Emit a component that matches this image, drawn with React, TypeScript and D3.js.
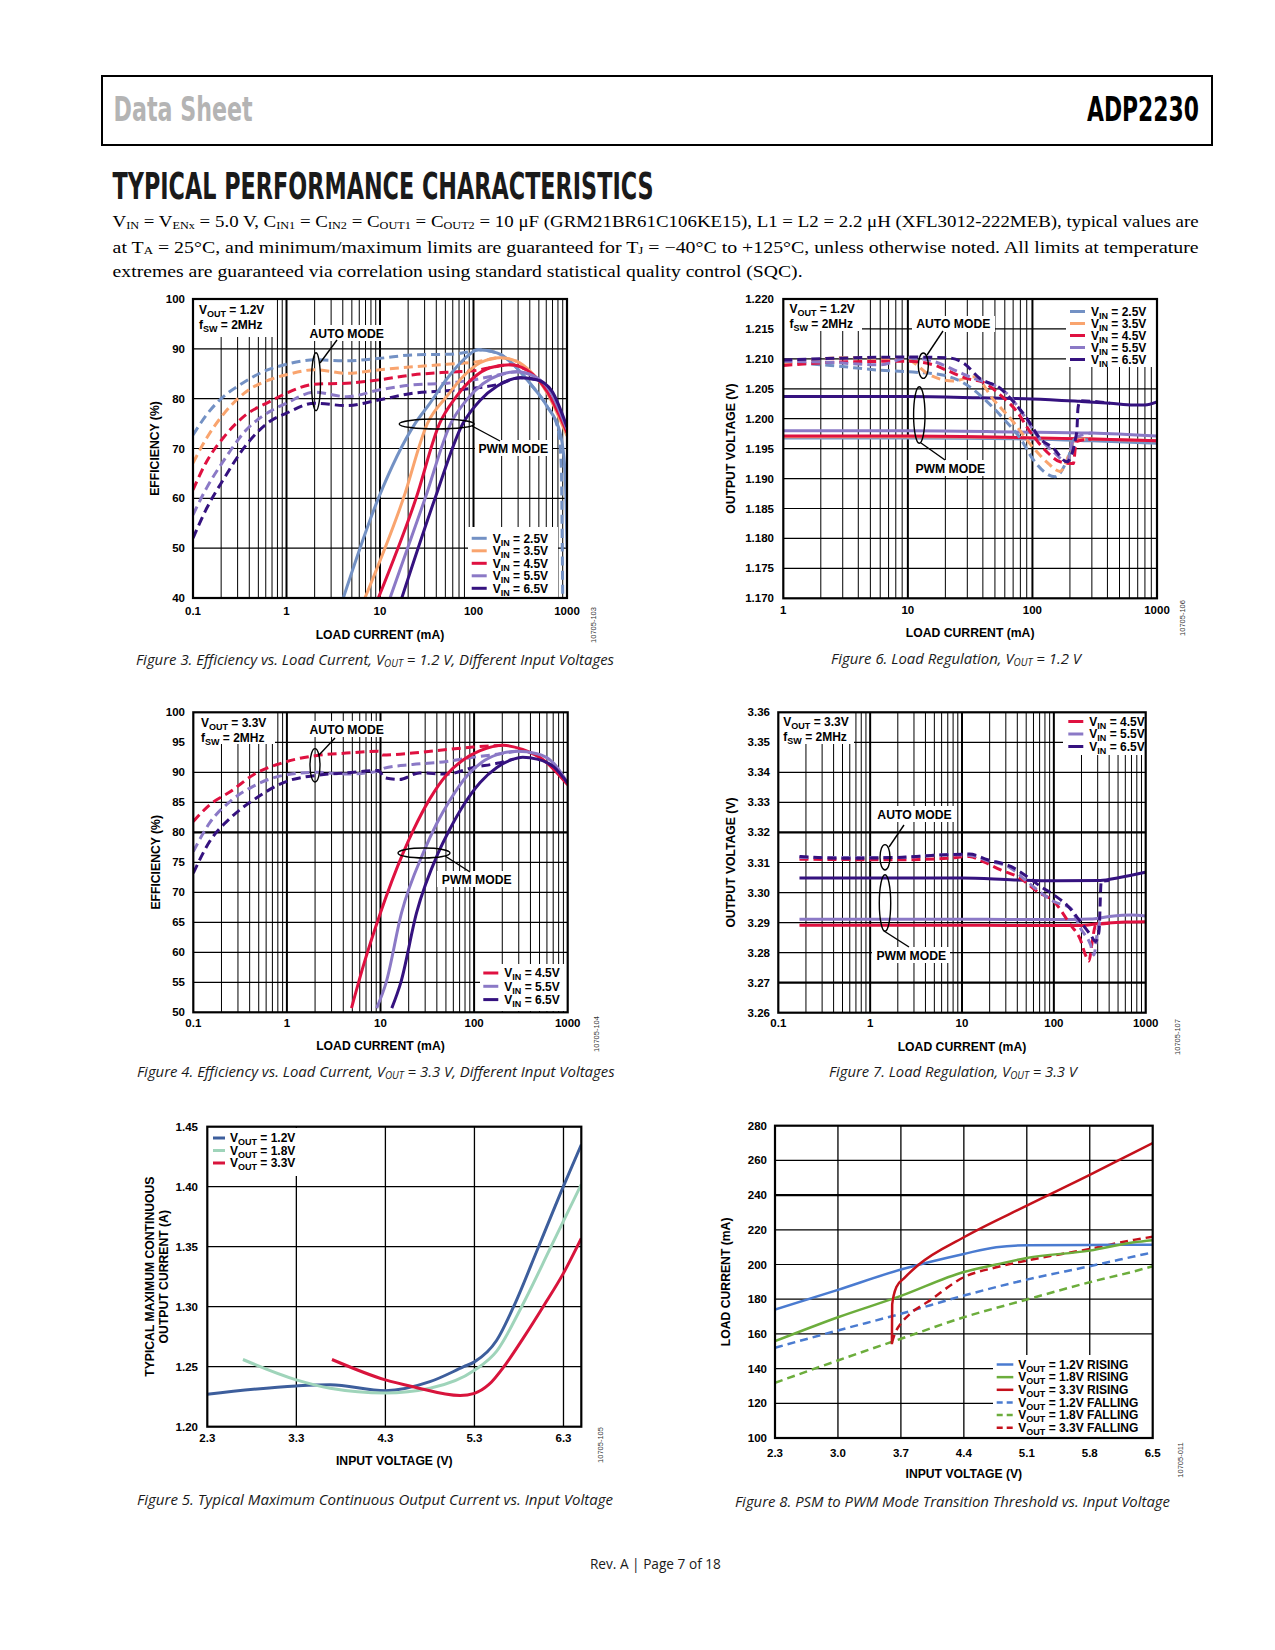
import React from 'react';
import * as d3 from 'd3';

type Pt = [number, number];
type Part = [string, boolean];

// Figure 3: efficiency (%) vs load current (mA), VOUT = 1.2 V
const fig3Auto25: Pt[] = [[0.1, 72.7], [0.14, 76.8], [0.2, 80], [0.32, 82.8], [0.56, 85.4], [1, 86.9], [2, 87.8], [4.4, 87.6], [10, 88.1], [23, 88.8], [52, 88.9], [90, 89.4], [113, 89.8], [178, 89.2], [269, 86.8], [405, 83], [611, 78.5], [800, 74], [870, 66], [890, 50], [900, 40]];
const fig3Auto35: Pt[] = [[0.1, 67.1], [0.14, 72.1], [0.21, 76.8], [0.37, 81.4], [0.66, 83.8], [1, 84.8], [2, 85.8], [4.4, 85.1], [10, 85.8], [23, 86.4], [52, 86.9], [100, 87.3], [150, 87.9], [191, 88.2], [290, 87.5]];
const fig3Auto45: Pt[] = [[0.1, 61.7], [0.14, 67.4], [0.21, 72.1], [0.37, 76.8], [0.66, 79.4], [1, 81.1], [2, 82.9], [4.4, 83.1], [10, 83.8], [23, 84.8], [52, 85.3], [100, 85.6], [170, 86.4], [246, 86.8], [368, 85.8]];
const fig3Auto55: Pt[] = [[0.1, 56.7], [0.14, 62.1], [0.21, 67.4], [0.37, 73.7], [0.66, 77.4], [1, 79.1], [2, 81.3], [4.4, 80.4], [10, 81.8], [23, 82.8], [52, 83.1], [100, 83.8], [191, 84.8], [290, 85.4], [438, 84.6]];
const fig3Auto65: Pt[] = [[0.1, 52], [0.14, 58], [0.21, 63.7], [0.37, 70.7], [0.66, 75.4], [1, 77.1], [2, 79.1], [4.4, 78.6], [10, 79.8], [23, 81.1], [52, 81.6], [100, 82.1], [178, 82.8], [315, 84.2], [475, 83.8]];
const fig3Pwm25: Pt[] = [[4.05, 40], [9.6, 60], [23.7, 75], [34, 79], [52, 84], [78, 87.8], [113, 89.8], [178, 89.2], [269, 86.8], [405, 83], [611, 78.5], [847, 73], [948, 66], [980, 58], [1000, 50]];
const fig3Pwm35: Pt[] = [[6.9, 40], [17.8, 60], [32.1, 75], [52, 80.5], [78, 84.5], [118, 87.2], [191, 88.2], [290, 87.5], [405, 85.5], [611, 81.2], [1000, 72.5]];
const fig3Pwm45: Pt[] = [[9.6, 40], [24.3, 60], [43.3, 75], [66, 80.5], [100, 84.2], [150, 86.2], [246, 86.8], [368, 85.8], [611, 81.5], [1000, 73.2]];
const fig3Pwm55: Pt[] = [[12.8, 40], [30.4, 60], [57, 75], [85, 79.8], [126, 83], [191, 84.8], [290, 85.4], [438, 84.6], [660, 81.5], [1000, 73.8]];
const fig3Pwm65: Pt[] = [[17.1, 40], [38.8, 60], [77, 75], [118, 79.7], [178, 82.5], [315, 84.2], [475, 83.8], [690, 81.5], [1000, 74.3]];

// Figure 6: output voltage (V) vs load current (mA), VOUT = 1.2 V
const fig6Auto25: Pt[] = [[1, 1.2094], [2.4, 1.2089], [6, 1.2081], [11, 1.2078], [19, 1.2073], [30, 1.2056], [43, 1.2029], [58, 1.2001], [80, 1.1967], [102, 1.1931], [152, 1.1903], [195, 1.1937], [220, 1.1967], [300, 1.1963]];
const fig6Auto35: Pt[] = [[1, 1.2091], [3.2, 1.2102], [10, 1.2098], [15, 1.2073], [23, 1.2063], [34, 1.207], [49, 1.2031], [70, 1.1995], [102, 1.1951], [130, 1.1928], [167, 1.1912], [200, 1.1945], [215, 1.1964], [300, 1.1966]];
const fig6Auto45: Pt[] = [[1, 1.2089], [3.2, 1.2095], [10, 1.2096], [16, 1.209], [20.5, 1.2081], [30, 1.2067], [40, 1.2061], [55, 1.204], [75, 1.2012], [96, 1.1978], [130, 1.1945], [167, 1.1928], [213, 1.1925], [225, 1.1962], [300, 1.1966]];
const fig6Auto55: Pt[] = [[1, 1.2096], [2.4, 1.2094], [6, 1.209], [10, 1.2102], [16, 1.2096], [25, 1.2079], [34, 1.2067], [49, 1.2056], [64, 1.204], [85, 1.2006], [108, 1.1973], [147, 1.1945], [189, 1.1928], [215, 1.1967], [300, 1.1976]];
const fig6Auto65: Pt[] = [[1, 1.2098], [10, 1.2103], [20.5, 1.2102], [28, 1.2093], [38, 1.2067], [55, 1.2051], [70, 1.2029], [90, 1.2001], [115, 1.1967], [147, 1.1951], [189, 1.1928], [227, 1.1978], [232, 1.2017], [241, 1.203], [420, 1.2026]];
const fig6Pwm25: Pt[] = [[1, 1.1968], [10, 1.1968], [100, 1.1966], [300, 1.1963], [1000, 1.1959]];
const fig6Pwm35: Pt[] = [[1, 1.197], [10, 1.197], [100, 1.1968], [300, 1.1966], [1000, 1.1963]];
const fig6Pwm45: Pt[] = [[1, 1.1971], [10, 1.1971], [100, 1.1968], [300, 1.1966], [1000, 1.1963]];
const fig6Pwm55: Pt[] = [[1, 1.198], [10, 1.198], [70, 1.1978], [300, 1.1976], [1000, 1.1971]];
const fig6Pwm65: Pt[] = [[1, 1.2037], [10, 1.2037], [38, 1.2035], [100, 1.2033], [240, 1.2029], [420, 1.2026], [650, 1.2023], [800, 1.2023], [1000, 1.2028]];

// Figure 4: efficiency (%) vs load current (mA), VOUT = 3.3 V
const fig4Auto45: Pt[] = [[0.1, 81.8], [0.15, 84.6], [0.25, 86.8], [0.44, 89.6], [1, 91.8], [2.1, 92.8], [4.3, 93.2], [9.5, 93.5], [10.5, 92.9], [22, 93.2], [51, 93.8], [97, 94.2], [150, 94.4], [206, 94.5]];
const fig4Auto55: Pt[] = [[0.1, 76.8], [0.15, 81.6], [0.25, 85.2], [0.44, 87.7], [1, 89.6], [2.1, 90], [4.3, 89.7], [9.5, 90.2], [11, 90.7], [22, 91.3], [51, 91.8], [97, 92.5], [175, 93], [284, 93.5]];
const fig4Auto65: Pt[] = [[0.1, 73.2], [0.15, 78.5], [0.25, 82.4], [0.44, 85.4], [1, 88.5], [2.1, 89.5], [4.3, 89.9], [9.5, 90.3], [11, 89.1], [16, 88.8], [26, 89.9], [51, 89.7], [98, 90.8], [176, 91.5], [263, 92.2]];
const fig4Pwm45: Pt[] = [[4.9, 50.7], [6.6, 57.9], [10, 66.6], [17.5, 76.6], [22.5, 80.4], [34, 85.7], [51, 89.6], [77, 92.1], [116, 93.6], [206, 94.5], [330, 93.8], [546, 92.1], [1000, 87.9]];
const fig4Pwm55: Pt[] = [[9.1, 50.7], [11.5, 55], [16.8, 66.6], [28.7, 76.6], [40, 81.5], [56, 85.5], [85, 89.5], [130, 92], [200, 93.2], [284, 93.5], [470, 93.1], [700, 91.6], [1000, 88.2]];
const fig4Pwm65: Pt[] = [[13.2, 50.7], [16.5, 55], [24.3, 66.6], [41.5, 76.6], [55, 80.5], [77, 84.5], [116, 88.3], [175, 90.8], [263, 92.2], [330, 92.5], [470, 92.2], [700, 91], [1000, 88.2]];

// Figure 7: output voltage (V) vs load current (mA), VOUT = 3.3 V
const fig7Auto45: Pt[] = [[0.17, 3.3111], [2, 3.3109], [7, 3.3114], [12, 3.312], [17, 3.3103], [26, 3.3076], [43, 3.3048], [66, 3.3003], [100, 3.297], [152, 3.2892], [195, 3.2842], [221, 3.2792], [241, 3.2772], [262, 3.2837], [285, 3.2892], [400, 3.2898]];
const fig7Auto55: Pt[] = [[0.17, 3.3117], [2, 3.3117], [7, 3.3126], [12, 3.3124], [19, 3.3106], [34, 3.3081], [51, 3.3037], [66, 3.3009], [100, 3.297], [152, 3.2948], [195, 3.2881], [251, 3.2826], [273, 3.2792], [295, 3.2859], [318, 3.2903], [340, 3.2912]];
const fig7Auto65: Pt[] = [[0.17, 3.312], [0.56, 3.3114], [2, 3.3117], [7, 3.3126], [12, 3.3128], [19, 3.3109], [34, 3.3087], [51, 3.3053], [72, 3.302], [100, 3.2992], [140, 3.2957], [195, 3.2903], [251, 3.2859], [285, 3.2837], [310, 3.287], [328, 3.3037], [400, 3.304]];
const fig7Pwm45: Pt[] = [[0.17, 3.2891], [10, 3.2891], [100, 3.289], [200, 3.289], [300, 3.2896], [600, 3.2902], [1000, 3.2903]];
const fig7Pwm55: Pt[] = [[0.17, 3.2911], [10, 3.2911], [100, 3.291], [250, 3.2912], [400, 3.292], [700, 3.2925], [1000, 3.2922]];
const fig7Pwm65: Pt[] = [[0.17, 3.3048], [10, 3.3048], [37, 3.3042], [100, 3.3039], [320, 3.304], [520, 3.305], [880, 3.3064], [1000, 3.3068]];

// Figure 5: max continuous output current (A) vs input voltage (V)
const fig5Vout12: Pt[] = [[2.3, 1.227], [3.3, 1.234], [3.68, 1.235], [4.3, 1.23], [4.8, 1.2375], [5.18, 1.25], [5.3, 1.254], [5.55, 1.272], [5.74, 1.3], [6.02, 1.35], [6.3, 1.4005], [6.5, 1.435]];
const fig5Vout18: Pt[] = [[2.7, 1.256], [3.3, 1.239], [3.68, 1.232], [4.3, 1.228], [4.8, 1.232], [5.3, 1.247], [5.55, 1.263], [5.83, 1.3], [6.16, 1.35], [6.5, 1.402]];
const fig5Vout33: Pt[] = [[3.7, 1.256], [4.3, 1.239], [4.61, 1.2333], [5.14, 1.226], [5.3, 1.2278], [5.46, 1.235], [5.66, 1.253], [5.85, 1.274], [6.08, 1.301], [6.3, 1.328], [6.5, 1.357]];

// Figure 8: PSM/PWM threshold load current (mA) vs input voltage (V)
const fig8Rise12: Pt[] = [[2.3, 174], [3.0, 185.4], [3.7, 197.1], [4.4, 206.1], [4.76, 210], [5.1, 211.1], [5.8, 211.3], [6.5, 211.4]];
const fig8Rise18: Pt[] = [[2.3, 155.8], [3.0, 169.6], [3.7, 181.9], [4.4, 195.7], [4.76, 200], [5.1, 203.8], [5.8, 208], [6.29, 212.8], [6.5, 214]];
const fig8Rise33: Pt[] = [[3.6, 154], [3.603, 177], [3.65, 187], [3.74, 192.3], [3.9, 200], [4.4, 215.7], [5.1, 233.9], [5.8, 251.6], [6.29, 264.5], [6.5, 270]];
const fig8Fall12: Pt[] = [[2.3, 152], [3.0, 162], [3.7, 171.6], [4.4, 182.1], [5.1, 191.3], [5.8, 199], [6.29, 204.6], [6.5, 207]];
const fig8Fall18: Pt[] = [[2.3, 131.8], [3.0, 144.7], [3.7, 157.2], [4.4, 169.6], [5.1, 179.8], [5.8, 189.8], [6.29, 196], [6.5, 199]];
const fig8Fall33: Pt[] = [[3.6, 155], [3.64, 161], [3.7, 166], [3.8, 171.5], [4.0, 178.5], [4.4, 192.7], [4.76, 198.4], [5.1, 202.3], [5.8, 209], [6.29, 214.2], [6.5, 216]];

// ticks
const loadTicks = [0.1, 1, 10, 100, 1000];
const loadLabels = ['0.1', '1', '10', '100', '1000'];
const load6Ticks = [1, 10, 100, 1000];
const load6Labels = ['1', '10', '100', '1000'];
const eff3Ticks = [40, 50, 60, 70, 80, 90, 100];
const eff4Ticks = [50, 55, 60, 65, 70, 75, 80, 85, 90, 95, 100];
const v12Ticks = [1.17, 1.175, 1.18, 1.185, 1.19, 1.195, 1.2, 1.205, 1.21, 1.215, 1.22];
const v33Ticks = [3.26, 3.27, 3.28, 3.29, 3.3, 3.31, 3.32, 3.33, 3.34, 3.35, 3.36];
const imaxTicks = [1.2, 1.25, 1.3, 1.35, 1.4, 1.45];
const vin5Ticks = [2.3, 3.3, 4.3, 5.3, 6.3];
const thrTicks = [100, 120, 140, 160, 180, 200, 220, 240, 260, 280];
const vin8Ticks = [2.3, 3.0, 3.7, 4.4, 5.1, 5.8, 6.5];
const vinNames = ['2.5V', '3.5V', '4.5V', '5.5V', '6.5V'];

const C25 = '#7391c4';
const C35 = '#f9a46e';
const C45 = '#df1140';
const C55 = '#8b79c6';
const C65 = '#35127f';

const SANS = "'Liberation Sans', Arial, Helvetica, sans-serif";
const MYRIAD = "'Open Sans', 'Noto Sans', sans-serif";
const NARROW = "'Liberation Sans Narrow', 'DejaVu Sans Condensed', sans-serif";

interface Series { data: Pt[]; color: string; dashed?: boolean }
interface Box { x: number; y: number; w: number; h: number }

function Rich({ x, y, parts, size, subSize, shift = 3, anchor, length, family = SANS, weight = 'bold', italic, fill = '#000' }: {
  x: number; y: number; parts: Part[]; size: number; subSize: number; shift?: number; anchor?: string;
  length?: number; family?: string; weight?: string; italic?: boolean; fill?: string;
}) {
  let cur = 0;
  return (
    <text x={x} y={y} fontSize={size} fontFamily={family} fontWeight={weight} fontStyle={italic ? 'italic' : 'normal'}
      textAnchor={anchor} fill={fill} textLength={length} lengthAdjust={length ? 'spacingAndGlyphs' : undefined}>
      {parts.map(([s, sub], i) => {
        const dy = (sub ? shift : 0) - cur;
        cur = sub ? shift : 0;
        return <tspan key={i} dy={dy} fontSize={sub ? subSize : size}>{s}</tspan>;
      })}
    </text>
  );
}

interface PanelProps {
  id: string;
  left: number; top: number; width: number; height: number;
  log?: boolean;
  xDomain: [number, number]; yDomain: [number, number];
  xTicks: number[]; xLabels: string[];
  yTicks: number[]; yLabels: string[];
  thickY?: number[];
  series: Series[];
  masks?: Box[];
  lineWidth?: number; dash?: string;
  xLabelY: number; yLabelX: number;
  xTitle: string; xTitleY: number;
  yTitle: string[]; yTitleX: number[];
  children?: React.ReactNode;
}

function Panel(p: PanelProps) {
  const right = p.left + p.width;
  const bottom = p.top + p.height;
  const x: (v: number) => number = p.log
    ? d3.scaleLog().domain(p.xDomain).range([p.left, right])
    : d3.scaleLinear().domain(p.xDomain).range([p.left, right]);
  const y = d3.scaleLinear().domain(p.yDomain).range([bottom, p.top]);

  // log axes get the usual 1..9 per decade grid, decade lines heavier
  const vLines: [number, number][] = [];
  if (p.log) {
    const lo = Math.floor(Math.log10(p.xDomain[0]) + 1e-9);
    const hi = Math.round(Math.log10(p.xDomain[1]));
    for (let e = lo; e < hi; e++) {
      for (let k = 1; k <= 9; k++) vLines.push([k * Math.pow(10, e), k === 1 ? 2 : 1]);
    }
  } else {
    p.xTicks.forEach((v) => vLines.push([v, 1.3]));
  }
  const vGrid = vLines.filter(([v]) => x(v) > p.left + 1 && x(v) < right - 1);
  const hGrid = p.yTicks.filter((v) => y(v) > p.top + 1 && y(v) < bottom - 1);

  const line = d3.line<Pt>().x((d) => x(d[0])).y((d) => y(d[1])).curve(d3.curveMonotoneX);
  const midX = (p.left + right) / 2;
  const midY = (p.top + bottom) / 2;

  return (
    <g>
      <defs>
        <clipPath id={`clip-${p.id}`}>
          <rect x={p.left} y={p.top} width={p.width} height={p.height} />
        </clipPath>
      </defs>
      {vGrid.map(([v, w], i) => (
        <line key={`v${i}`} x1={x(v)} x2={x(v)} y1={p.top} y2={bottom} stroke="#000" strokeWidth={w} />
      ))}
      {hGrid.map((v, i) => (
        <line key={`h${i}`} x1={p.left} x2={right} y1={y(v)} y2={y(v)} stroke="#000"
          strokeWidth={p.thickY && p.thickY.includes(v) ? 2.2 : 1.2} />
      ))}
      {(p.masks || []).map((b, i) => (
        <rect key={`m${i}`} x={b.x} y={b.y} width={b.w} height={b.h} fill="#fff" />
      ))}
      <g clipPath={`url(#clip-${p.id})`}>
        {p.series.map((s, i) => (
          <path key={`s${i}`} d={line(s.data) || ''} fill="none" stroke={s.color}
            strokeWidth={p.lineWidth || 3} strokeDasharray={s.dashed ? p.dash || '9 5' : undefined} />
        ))}
      </g>
      <rect x={p.left} y={p.top} width={p.width} height={p.height} fill="none" stroke="#000" strokeWidth={2.2} />
      {p.yTicks.map((v, i) => (
        <text key={`yl${i}`} x={p.yLabelX} y={y(v) + 4} textAnchor="end" fontSize={11.5} fontWeight="bold" fontFamily={SANS}>
          {p.yLabels[i]}
        </text>
      ))}
      {p.xTicks.map((v, i) => (
        <text key={`xl${i}`} x={x(v)} y={p.xLabelY} textAnchor="middle" fontSize={11.5} fontWeight="bold" fontFamily={SANS}>
          {p.xLabels[i]}
        </text>
      ))}
      <text x={midX} y={p.xTitleY} textAnchor="middle" fontSize={12.2} fontWeight="bold" fontFamily={SANS}>{p.xTitle}</text>
      {p.yTitle.map((t, i) => (
        <text key={`yt${i}`} transform={`translate(${p.yTitleX[i]},${midY}) rotate(-90)`} dy="0.35em"
          textAnchor="middle" fontSize={12.2} fontWeight="bold" fontFamily={SANS}>{t}</text>
      ))}
      {p.children}
    </g>
  );
}

interface LegendItem { parts: Part[]; color: string; dashed?: boolean }

function Legend({ x, y, step, items, sw = 15, gap = 6, width = 3, dash = '6 4' }: {
  x: number; y: number; step: number; items: LegendItem[]; sw?: number; gap?: number; width?: number; dash?: string;
}) {
  return (
    <g>
      {items.map((it, i) => (
        <g key={i}>
          <line x1={x} x2={x + sw} y1={y + i * step} y2={y + i * step} stroke={it.color} strokeWidth={width}
            strokeDasharray={it.dashed ? dash : undefined} />
          <Rich x={x + sw + gap} y={y + i * step + 4.3} parts={it.parts} size={12} subSize={9} shift={3} />
        </g>
      ))}
    </g>
  );
}

function Mode({ label, tx, ty, ex, ey, rx, ry, l }: {
  label: string; tx: number; ty: number; ex: number; ey: number; rx: number; ry: number; l: [number, number, number, number];
}) {
  return (
    <g>
      <ellipse cx={ex} cy={ey} rx={rx} ry={ry} fill="none" stroke="#000" strokeWidth={1.4} />
      <line x1={l[0]} y1={l[1]} x2={l[2]} y2={l[3]} stroke="#000" strokeWidth={1.4} />
      <text x={tx} y={ty + 4.4} textAnchor="middle" fontSize={12.2} fontWeight="bold" fontFamily={SANS}>{label}</text>
    </g>
  );
}

function Info({ x, y, vout }: { x: number; y: number; vout: string }) {
  return (
    <g>
      <Rich x={x} y={y} parts={[['V', false], ['OUT', true], [` = ${vout}`, false]]} size={12} subSize={9} />
      <Rich x={x} y={y + 15} parts={[['f', false], ['SW', true], [' = 2MHz', false]]} size={12} subSize={9} />
    </g>
  );
}

function Caption({ x, y, len, parts }: { x: number; y: number; len: number; parts: Part[] }) {
  return <Rich x={x} y={y} parts={parts} size={15} subSize={10} shift={2} length={len} family={MYRIAD} weight="normal" italic fill="#1a1a1a" />;
}

function Code({ x, y, t }: { x: number; y: number; t: string }) {
  return (
    <text transform={`translate(${x},${y}) rotate(-90)`} dy="0.35em" textAnchor="middle" fontSize={7.5} fontFamily={SANS} fill="#333">{t}</text>
  );
}

const vinParts = (v: string): Part[] => [['V', false], ['IN', true], [` = ${v}`, false]];
const voutParts = (v: string): Part[] => [['V', false], ['OUT', true], [` = ${v}`, false]];

const yFmt = (d: number[], n: number) => d.map((v) => v.toFixed(n));

export default function App() {
  const vinColors = [C25, C35, C45, C55, C65];
  return (
    <svg width={1275} height={1650} viewBox="0 0 1275 1650"
      style={{ position: 'absolute', left: 0, top: 0, background: '#fff' }} fontFamily={SANS}>
      <rect width={1275} height={1650} fill="#fff" />
      {/* header */}
      <rect x={102} y={76} width={1110} height={69} fill="none" stroke="#000" strokeWidth={2} />
      <text x={113.6} y={121} fontSize={34} fontWeight="bold" fill="#b4b4b4" fontFamily={NARROW}
        textLength={139} lengthAdjust="spacingAndGlyphs">Data Sheet</text>
      <text x={1087} y={121} fontSize={34} fontWeight="bold" fill="#000" fontFamily={NARROW}
        textLength={112} lengthAdjust="spacingAndGlyphs">ADP2230</text>
      <text x={112.6} y={199} fontSize={38} fontWeight="bold" fill="#1a1a1a" fontFamily={NARROW}
        textLength={541} lengthAdjust="spacingAndGlyphs">TYPICAL PERFORMANCE CHARACTERISTICS</text>
      <Rich x={112.6} y={227} size={17} subSize={11} shift={1.5} family="'Liberation Serif', 'Times New Roman', serif" weight="normal" length={1086}
        parts={[['V', false], ['IN', true], [' = V', false], ['ENx', true], [' = 5.0 V, C', false], ['IN1', true], [' = C', false], ['IN2', true], [' = C', false], ['OUT1', true], [' = C', false], ['OUT2', true], [' = 10 μF (GRM21BR61C106KE15), L1 = L2 = 2.2 μH (XFL3012-222MEB), typical values are', false]]} />
      <Rich x={112.6} y={252.5} size={17} subSize={11} shift={1.5} family="'Liberation Serif', 'Times New Roman', serif" weight="normal" length={1086}
        parts={[['at T', false], ['A', true], [' = 25°C, and minimum/maximum limits are guaranteed for T', false], ['J', true], [' = −40°C to +125°C, unless otherwise noted. All limits at temperature', false]]} />
      <Rich x={112.6} y={277} size={17} subSize={11} family="'Liberation Serif', 'Times New Roman', serif" weight="normal" length={690}
        parts={[['extremes are guaranteed via correlation using standard statistical quality control (SQC).', false]]} />

      {/* Figure 3 */}
      <Panel id="f3" left={193} top={299} width={374} height={299} log xDomain={[0.1, 1000]} yDomain={[40, 100]}
        xTicks={loadTicks} xLabels={loadLabels} yTicks={eff3Ticks} yLabels={yFmt(eff3Ticks, 0)}
        series={[
          { data: fig3Auto25, color: C25, dashed: true }, { data: fig3Auto35, color: C35, dashed: true },
          { data: fig3Auto45, color: C45, dashed: true }, { data: fig3Auto55, color: C55, dashed: true },
          { data: fig3Auto65, color: C65, dashed: true },
          { data: fig3Pwm25, color: C25 }, { data: fig3Pwm35, color: C35 }, { data: fig3Pwm45, color: C45 },
          { data: fig3Pwm55, color: C55 }, { data: fig3Pwm65, color: C65 },
        ]}
        masks={[{ x: 194, y: 300, w: 80, h: 37 }, { x: 308, y: 325, w: 78, h: 16 }, { x: 475, y: 440, w: 77, h: 16 }, { x: 468, y: 527, w: 90, h: 70 }]}
        xLabelY={615} yLabelX={185} xTitle="LOAD CURRENT (mA)" xTitleY={638.5} yTitle={['EFFICIENCY (%)']} yTitleX={[155]}>
        <Info x={199} y={314.3} vout="1.2V" />
        <Mode label="AUTO MODE" tx={346.7} ty={333.3} ex={316} ey={381.7} rx={4.5} ry={29} l={[320, 363, 337, 340]} />
        <Mode label="PWM MODE" tx={513.3} ty={448.3} ex={436.7} ey={424} rx={37.5} ry={5} l={[472, 426, 500, 441]} />
        <Legend x={471.7} y={538.3} step={12.5} items={vinNames.map((n, i) => ({ parts: vinParts(n), color: vinColors[i] }))} />
      </Panel>
      <Code x={593} y={625} t="10705-103" />
      <Caption x={136} y={665} len={478} parts={[['Figure 3. Efficiency vs. Load Current, V', false], ['OUT', true], [' = 1.2 V, Different Input Voltages', false]]} />

      {/* Figure 6 */}
      <Panel id="f6" left={783.3} top={299} width={373.7} height={299.3} log xDomain={[1, 1000]} yDomain={[1.17, 1.22]}
        xTicks={load6Ticks} xLabels={load6Labels} yTicks={v12Ticks} yLabels={yFmt(v12Ticks, 3)}
        series={[
          { data: fig6Pwm25, color: C25 }, { data: fig6Pwm35, color: C35 }, { data: fig6Pwm45, color: C45 },
          { data: fig6Pwm55, color: C55 }, { data: fig6Pwm65, color: C65 },
          { data: fig6Auto25, color: C25, dashed: true }, { data: fig6Auto35, color: C35, dashed: true },
          { data: fig6Auto45, color: C45, dashed: true }, { data: fig6Auto55, color: C55, dashed: true },
          { data: fig6Auto65, color: C65, dashed: true },
        ]}
        masks={[{ x: 784, y: 300, w: 78, h: 31 }, { x: 912, y: 316, w: 83, h: 16 }, { x: 911, y: 460, w: 78, h: 16 }, { x: 1066, y: 300, w: 90, h: 67 }]}
        xLabelY={614} yLabelX={774} xTitle="LOAD CURRENT (mA)" xTitleY={636.5} yTitle={['OUTPUT VOLTAGE (V)']} yTitleX={[731]}>
        <Info x={789.5} y={312.6} vout="1.2V" />
        <Mode label="AUTO MODE" tx={953.3} ty={324} ex={923.3} ey={365.7} rx={5} ry={12.7} l={[927, 355, 943, 331]} />
        <Mode label="PWM MODE" tx={950.3} ty={468.3} ex={919.3} ey={415} rx={5.7} ry={28.3} l={[921, 443, 945, 460]} />
        <Legend x={1070} y={311.5} step={12} items={vinNames.map((n, i) => ({ parts: vinParts(n), color: vinColors[i] }))} />
      </Panel>
      <Code x={1182} y={618} t="10705-106" />
      <Caption x={831} y={664} len={250} parts={[['Figure 6. Load Regulation, V', false], ['OUT', true], [' = 1.2 V', false]]} />

      {/* Figure 4 */}
      <Panel id="f4" left={193.3} top={712.3} width={374.4} height={300} log xDomain={[0.1, 1000]} yDomain={[50, 100]}
        xTicks={loadTicks} xLabels={loadLabels} yTicks={eff4Ticks} yLabels={yFmt(eff4Ticks, 0)} thickY={[80]}
        series={[
          { data: fig4Auto45, color: C45, dashed: true }, { data: fig4Auto55, color: C55, dashed: true },
          { data: fig4Auto65, color: C65, dashed: true },
          { data: fig4Pwm45, color: C45 }, { data: fig4Pwm55, color: C55 }, { data: fig4Pwm65, color: C65 },
        ]}
        masks={[{ x: 194, y: 713, w: 81, h: 31 }, { x: 308, y: 721, w: 78, h: 16 }, { x: 437, y: 871, w: 79, h: 16 }, { x: 480, y: 964, w: 87, h: 47 }]}
        xLabelY={1027} yLabelX={185} xTitle="LOAD CURRENT (mA)" xTitleY={1050} yTitle={['EFFICIENCY (%)']} yTitleX={[156]}>
        <Info x={201} y={727.3} vout="3.3V" />
        <Mode label="AUTO MODE" tx={346.7} ty={729.7} ex={315} ey={765.3} rx={5} ry={16.7} l={[319, 755, 335, 738]} />
        <Mode label="PWM MODE" tx={476.7} ty={879.7} ex={424} ey={853} rx={26} ry={5} l={[445, 856, 470, 872]} />
        <Legend x={483.3} y={973} step={13.3} items={[2, 3, 4].map((i) => ({ parts: vinParts(vinNames[i]), color: vinColors[i] }))} />
      </Panel>
      <Code x={596} y={1034} t="10705-104" />
      <Caption x={137} y={1077} len={477.6} parts={[['Figure 4. Efficiency vs. Load Current, V', false], ['OUT', true], [' = 3.3 V, Different Input Voltages', false]]} />

      {/* Figure 7 */}
      <Panel id="f7" left={778.3} top={712.3} width={367.4} height={300.4} log xDomain={[0.1, 1000]} yDomain={[3.26, 3.36]}
        xTicks={loadTicks} xLabels={loadLabels} yTicks={v33Ticks} yLabels={yFmt(v33Ticks, 2)} thickY={[3.32, 3.27]}
        series={[
          { data: fig7Pwm45, color: C45 }, { data: fig7Pwm55, color: C55 }, { data: fig7Pwm65, color: C65 },
          { data: fig7Auto45, color: C45, dashed: true }, { data: fig7Auto55, color: C55, dashed: true },
          { data: fig7Auto65, color: C65, dashed: true },
        ]}
        masks={[{ x: 779, y: 713, w: 75, h: 31 }, { x: 873, y: 806, w: 83, h: 16 }, { x: 872, y: 947, w: 78, h: 16 }, { x: 1063, y: 713, w: 82, h: 42 }]}
        xLabelY={1027} yLabelX={770} xTitle="LOAD CURRENT (mA)" xTitleY={1051} yTitle={['OUTPUT VOLTAGE (V)']} yTitleX={[730.7]}>
        <Info x={783.3} y={726.3} vout="3.3V" />
        <Mode label="AUTO MODE" tx={914.5} ty={814.7} ex={885} ey={857.3} rx={5} ry={12.7} l={[889, 847, 904, 825]} />
        <Mode label="PWM MODE" tx={911.3} ty={955.3} ex={885} ey={903} rx={5.7} ry={28.3} l={[884, 931, 909, 947]} />
        <Legend x={1068.3} y={721.5} step={12.5} items={[2, 3, 4].map((i) => ({ parts: vinParts(vinNames[i]), color: vinColors[i] }))} />
      </Panel>
      <Code x={1177} y={1037} t="10705-107" />
      <Caption x={829} y={1077} len={248} parts={[['Figure 7. Load Regulation, V', false], ['OUT', true], [' = 3.3 V', false]]} />

      {/* Figure 5 */}
      <Panel id="f5" left={207.3} top={1126.7} width={374} height={300} xDomain={[2.3, 6.5]} yDomain={[1.2, 1.45]}
        xTicks={vin5Ticks} xLabels={yFmt(vin5Ticks, 1)} yTicks={imaxTicks} yLabels={yFmt(imaxTicks, 2)}
        series={[{ data: fig5Vout12, color: '#3d5e9c' }, { data: fig5Vout18, color: '#9fd4ba' }, { data: fig5Vout33, color: '#d8143c' }]}
        masks={[{ x: 208.5, y: 1128, w: 96, h: 48 }]} lineWidth={3}
        xLabelY={1442} yLabelX={198} xTitle="INPUT VOLTAGE (V)" xTitleY={1464.5}
        yTitle={['TYPICAL MAXIMUM CONTINUOUS', 'OUTPUT CURRENT (A)']} yTitleX={[150, 163.3]}>
        <Legend x={213} y={1138} step={12.5} sw={12} gap={5}
          items={[{ parts: voutParts('1.2V'), color: '#3d5e9c' }, { parts: voutParts('1.8V'), color: '#9fd4ba' }, { parts: voutParts('3.3V'), color: '#d8143c' }]} />
      </Panel>
      <Code x={600} y={1445} t="10705-105" />
      <Caption x={137} y={1505} len={476} parts={[['Figure 5. Typical Maximum Continuous Output Current vs. Input Voltage', false]]} />

      {/* Figure 8 */}
      <Panel id="f8" left={775} top={1125.7} width={377.7} height={312.3} xDomain={[2.3, 6.5]} yDomain={[100, 280]}
        xTicks={vin8Ticks} xLabels={yFmt(vin8Ticks, 1)} yTicks={thrTicks} yLabels={yFmt(thrTicks, 0)} thickY={[240]}
        series={[
          { data: fig8Fall12, color: '#4a7bd0', dashed: true }, { data: fig8Fall18, color: '#6cad3c', dashed: true },
          { data: fig8Fall33, color: '#c4111b', dashed: true },
          { data: fig8Rise12, color: '#4a7bd0' }, { data: fig8Rise18, color: '#6cad3c' }, { data: fig8Rise33, color: '#c4111b' },
        ]}
        masks={[{ x: 993, y: 1355, w: 159, h: 82 }]} lineWidth={2.5} dash="8 5"
        xLabelY={1457} yLabelX={767} xTitle="INPUT VOLTAGE (V)" xTitleY={1477.5} yTitle={['LOAD CURRENT (mA)']} yTitleX={[726]}>
        <Legend x={996.7} y={1364.5} step={12.65} sw={16.6} gap={5} width={2.5} dash="6 4"
          items={[
            { parts: voutParts('1.2V RISING'), color: '#4a7bd0' }, { parts: voutParts('1.8V RISING'), color: '#6cad3c' },
            { parts: voutParts('3.3V RISING'), color: '#c4111b' }, { parts: voutParts('1.2V FALLING'), color: '#4a7bd0', dashed: true },
            { parts: voutParts('1.8V FALLING'), color: '#6cad3c', dashed: true }, { parts: voutParts('3.3V FALLING'), color: '#c4111b', dashed: true },
          ]} />
      </Panel>
      <Code x={1180} y={1460} t="10705-011" />
      <Caption x={735} y={1507} len={435} parts={[['Figure 8. PSM to PWM Mode Transition Threshold  vs. Input Voltage', false]]} />

      {/* footer */}
      <text x={655.4} y={1569} textAnchor="middle" fontSize={14} fontFamily={MYRIAD} fill="#1a1a1a" textLength={131} lengthAdjust="spacingAndGlyphs">
        Rev. A | Page 7 of 18
      </text>
    </svg>
  );
}
